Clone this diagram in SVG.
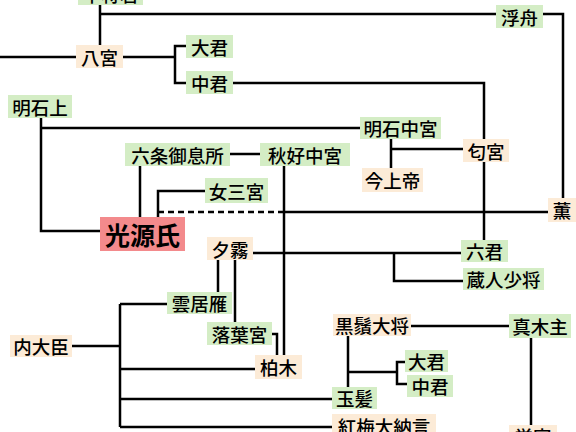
<svg xmlns="http://www.w3.org/2000/svg" width="576" height="432" viewBox="0 0 576 432">
<style>
.g{fill:#d4edc5}
.b{fill:#fcebd7}
.p{fill:#f38a8c}
text{font-family:"Noto Sans CJK JP","Noto Sans CJK SC",sans-serif;font-size:18.5px;font-weight:500;fill:#000;text-anchor:middle;dominant-baseline:central}
.big{font-size:25px;font-weight:700}
.c{fill:none;stroke:#000;stroke-width:2.5}
.d{stroke-dasharray:6,4}
</style>
<rect width="576" height="432" fill="#fff"/>
<g id="connectors">
<path class="c" d="M100,5 V45 M100,14 H496 M543,14 H563 V198"/>
<path class="c" d="M0,57 H76 M123,57 H175 M186,46 H175 V83 H186"/>
<path class="c" d="M233,83 H484 V139"/>
<path class="c" d="M41,118 V231 H100 M41,128 H360"/>
<path class="c" d="M391,138 V168 M391,149 H463"/>
<path class="c" d="M230,154 H260 M140,166 V217"/>
<path class="c" d="M284,166 V355"/>
<path class="c" d="M158,217 V191 H205"/>
<path class="c d" d="M158,212 H284"/>
<path class="c" d="M284,212 H548"/>
<path class="c" d="M484,162 V240"/>
<path class="c" d="M253,253 H461 M394,253 V281 H463 M218,260 V292 M235,260 V322"/>
<path class="c" d="M272,334 H277 V355"/>
<path class="c" d="M72,346 H120 M120,304 V427 M120,304 H167 M120,369 H255 M120,399 H332 M120,427 H332"/>
<path class="c" d="M411,326 H509 M348,335 V387 M348,372 H397 M405,362 H397 V384 H407"/>
<path class="c" d="M531,338 V425"/>
</g>
<g id="n_chujo"><rect class="g" x="78" y="-18" width="65" height="23"/><text x="110.5" y="-6.5">中将君</text></g>
<g id="n_ukifune"><rect class="g" x="496" y="5" width="47" height="23"/><text x="519.5" y="16.5">浮舟</text></g>
<g id="n_hachinomiya"><rect class="b" x="76" y="45" width="47" height="23"/><text x="99.5" y="56.5">八宮</text></g>
<g id="n_oigimi1"><rect class="g" x="186" y="35" width="47" height="23"/><text x="209.5" y="46.5">大君</text></g>
<g id="n_nakanokimi1"><rect class="g" x="186" y="71" width="47" height="23"/><text x="209.5" y="82.5">中君</text></g>
<g id="n_akashinoue"><rect class="g" x="8" y="95" width="64" height="23"/><text x="40" y="106.5">明石上</text></g>
<g id="n_akashichugu"><rect class="g" x="360" y="117" width="81" height="22"/><text x="400.5" y="128">明石中宮</text></g>
<g id="n_niou"><rect class="b" x="463" y="139" width="46" height="23"/><text x="486" y="150.5">匂宮</text></g>
<g id="n_kinjo"><rect class="b" x="362" y="168" width="61" height="24"/><text x="392.5" y="180">今上帝</text></g>
<g id="n_rokujo"><rect class="g" x="125" y="143" width="105" height="23"/><text x="177.5" y="154.5">六条御息所</text></g>
<g id="n_akikonomu"><rect class="g" x="260" y="143" width="90" height="23"/><text x="305" y="154.5">秋好中宮</text></g>
<g id="n_genji"><rect class="p" x="100" y="217" width="85" height="34"/><text class="big" x="142.5" y="234">光源氏</text></g>
<g id="n_onnasannomiya"><rect class="g" x="205" y="178" width="63" height="25"/><text x="236.5" y="190.5">女三宮</text></g>
<g id="n_kaoru"><rect class="b" x="548" y="198" width="28" height="24"/><text x="562" y="210">薫</text></g>
<g id="n_yugiri"><rect class="b" x="207" y="237" width="46" height="23"/><text x="230" y="248.5">夕霧</text></g>
<g id="n_rokunokimi"><rect class="g" x="461" y="240" width="47" height="22"/><text x="484.5" y="251">六君</text></g>
<g id="n_kurodo"><rect class="g" x="463" y="268" width="81" height="22"/><text x="503.5" y="279">蔵人少将</text></g>
<g id="n_kumoinokari"><rect class="g" x="167" y="292" width="65" height="22"/><text x="199.5" y="303">雲居雁</text></g>
<g id="n_ochiba"><rect class="g" x="207" y="322" width="65" height="23"/><text x="239.5" y="333.5">落葉宮</text></g>
<g id="n_kashiwagi"><rect class="b" x="255" y="355" width="47" height="24"/><text x="278.5" y="367">柏木</text></g>
<g id="n_naidaijin"><rect class="b" x="10" y="335" width="62" height="22"/><text x="41" y="346">内大臣</text></g>
<g id="n_higekuro"><rect class="b" x="333" y="314" width="78" height="22"/><text x="372" y="325">黒鬚大将</text></g>
<g id="n_makibashira"><rect class="g" x="509" y="314" width="62" height="24"/><text x="540" y="326">真木主</text></g>
<g id="n_oigimi2"><rect class="g" x="405" y="350" width="43" height="22"/><text x="426.5" y="361">大君</text></g>
<g id="n_nakanokimi2"><rect class="g" x="407" y="375" width="46" height="22"/><text x="430" y="386">中君</text></g>
<g id="n_tamakazura"><rect class="g" x="332" y="387" width="45" height="22"/><text x="354.5" y="398">玉髪</text></g>
<g id="n_kobai"><rect class="b" x="332" y="414" width="104" height="24"/><text x="384" y="426">紅梅大納言</text></g>
<g id="n_hotaru"><rect class="b" x="509" y="425" width="48" height="22"/><text x="533" y="436">蛍宮</text></g>
</svg>
